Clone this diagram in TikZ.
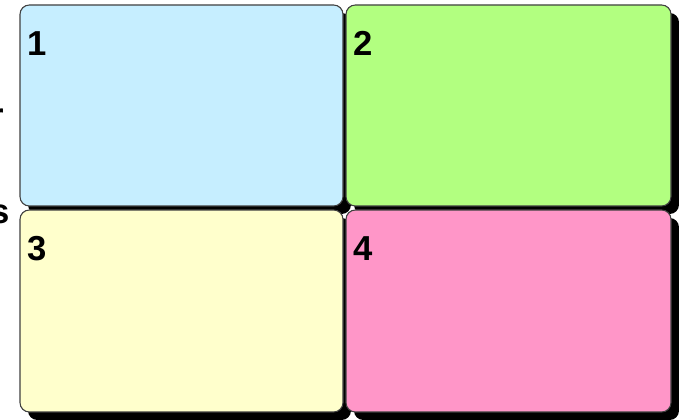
\documentclass[tikz,border=0pt]{standalone}
\usepackage{fontspec}
\setmainfont{Liberation Sans}
\definecolor{paneblue}{RGB}{198,238,255}
\definecolor{panegreen}{RGB}{178,255,128}
\definecolor{paneyellow}{RGB}{255,255,204}
\definecolor{panepink}{RGB}{255,150,200}
\begin{document}
\begin{tikzpicture}[x=0.75pt,y=-0.75pt,
    panel/.style={draw=black!75,line width=0.8pt,rounded corners=7pt},
    panelnum/.style={anchor=base west,inner sep=0pt,font=\fontsize{26}{30}\selectfont\bfseries}]
  \useasboundingbox (0,0) rectangle (679,420);
  \clip (0,0) rectangle (679,420);
  \foreach \x/\y/\w/\h/\c/\n in {20/5/323/201/paneblue/1,346/5/325/201/panegreen/2,
                                 20/210/323/202/paneyellow/3,346/210/325/202/panepink/4} {
    \path[fill=black,rounded corners=7pt] (\x+8,\y+8) rectangle ++(\w,\h);
    \path[panel,fill=\c] (\x,\y) rectangle ++(\w,\h);
    \node[panelnum] (num\n) at (\x+7,\y+51) {\n};
  };
  % cut-off text on the left edge
  \node[panelnum,anchor=base east] (cutr) at (4,128) {r};
  \node[panelnum,anchor=base east] (cuts) at (10,224) {s};
\end{tikzpicture}
\end{document}
